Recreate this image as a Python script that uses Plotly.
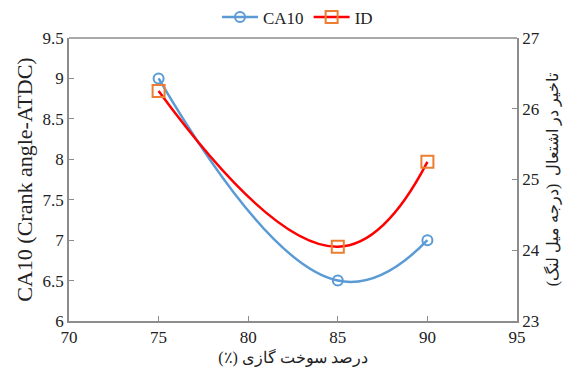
import plotly.graph_objects as go

x_vals = [75, 85, 90]
ca10 = [9.0, 6.5, 7.0]
ignition_delay = [26.25, 24.05, 25.25]

x_ticks = [70, 75, 80, 85, 90, 95]
y_left_ticks = [6, 6.5, 7, 7.5, 8, 8.5, 9, 9.5]
y_right_ticks = [23, 24, 25, 26, 27]

font_family = "Liberation Serif, Times New Roman, serif"
axis_color = "#8c8c8c"
RLM = "\u200f"

fig = go.Figure()
fig.add_trace(go.Scatter(
    x=x_vals, y=ca10, name="CA10", mode="lines+markers",
    line=dict(color="#5B9BD5", width=2.5, shape="spline", smoothing=1.3),
    marker=dict(symbol="circle-open", size=10, color="#5B9BD5", line=dict(width=2)),
))
fig.add_trace(go.Scatter(
    x=x_vals, y=ignition_delay, name="ID", mode="lines+markers", yaxis="y2",
    line=dict(color="#FF0000", width=2.5, shape="spline", smoothing=1.3),
    marker=dict(symbol="square-open", size=12, color="#ED7D31", line=dict(width=2)),
))

fig.update_layout(
    width=579, height=374,
    margin=dict(l=61, r=70, t=30, b=61, autoexpand=False),
    paper_bgcolor="white", plot_bgcolor="white",
    font=dict(family=font_family, size=17, color="#222"),
    showlegend=True,
    legend=dict(orientation="h", x=0.5, xanchor="center", xref="container",
                y=0.975, yanchor="middle", yref="container",
                bgcolor="rgba(0,0,0,0)",
                font=dict(size=17), itemwidth=36, tracegroupgap=0),
    xaxis=dict(range=[70, 95], tickvals=x_ticks, ticks="inside", ticklen=5,
               tickcolor=axis_color, showline=True, linecolor=axis_color, linewidth=1.5,
               showgrid=False, zeroline=False, automargin=False,
               tickfont=dict(size=17),
               title=dict(text="درصد سوخت گازی (٪)" + RLM, font=dict(size=16), standoff=6)),
    yaxis=dict(range=[6, 9.5], tickvals=y_left_ticks, ticks="inside", ticklen=5,
               tickcolor=axis_color, showline=True, linecolor=axis_color, linewidth=1.5,
               showgrid=False, zeroline=False, automargin=False,
               tickfont=dict(size=17),
               title=dict(text="CA10 (Crank angle-ATDC)", font=dict(size=22), standoff=4)),
    yaxis2=dict(range=[23, 27], tickvals=y_right_ticks, ticks="inside", ticklen=5,
                tickcolor=axis_color, showline=True, linecolor=axis_color, linewidth=1.5,
                overlaying="y", side="right", showgrid=False, zeroline=False, automargin=False,
                tickfont=dict(size=17),
                title=dict(text="تاخیر در اشتعال  (درجه میل لنگ)" + RLM, font=dict(size=16), standoff=8)),
    shapes=[dict(type="line", xref="paper", yref="paper", x0=0, x1=1, y0=1, y1=1,
                 line=dict(color=axis_color, width=1.5))],
)

fig.write_html("out.html")
